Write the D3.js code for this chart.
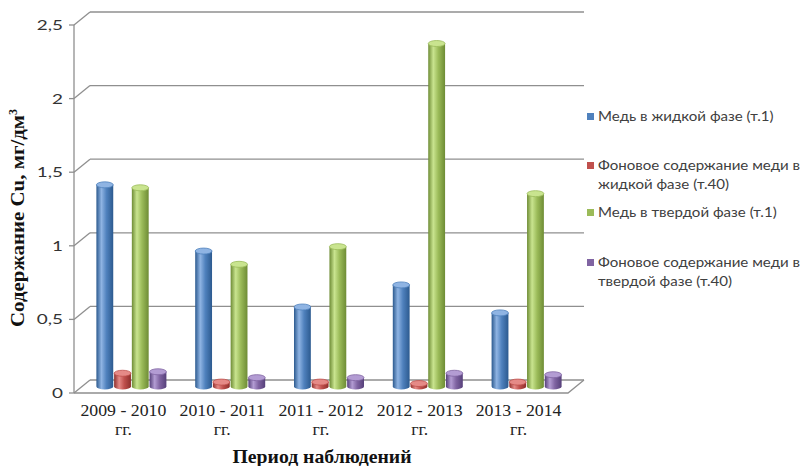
<!DOCTYPE html>
<html><head><meta charset="utf-8">
<script src="https://cdn.jsdelivr.net/npm/d3@7"></script>
<style>body{margin:0;background:#fff}svg{display:block}</style>
</head><body>
<svg id="c" width="803" height="466"></svg>
<script>
const categories = [["2009 - 2010","гг."],["2010 - 2011","гг."],["2011 - 2012","гг."],["2012 - 2013","гг."],["2013 - 2014","гг."]];
const seriesNames = ["Медь в жидкой фазе (т.1)","Фоновое содержание меди в жидкой фазе (т.40)","Медь в твердой фазе (т.1)","Фоновое содержание меди в твердой фазе (т.40)"];
const legendLines = [["Медь в жидкой фазе (т.1)"],["Фоновое содержание меди в","жидкой фазе (т.40)"],["Медь в твердой фазе (т.1)"],["Фоновое содержание меди в","твердой фазе (т.40)"]];
const cuLiquid = [1.37, 0.92, 0.54, 0.69, 0.50];
const bgLiquid = [0.09, 0.03, 0.03, 0.02, 0.03];
const cuSolid = [1.35, 0.83, 0.95, 2.33, 1.31];
const bgSolid = [0.10, 0.06, 0.06, 0.09, 0.08];
const yTicks = [0, 0.5, 1, 1.5, 2, 2.5];
const yTickLabels = ["0","0,5","1","1,5","2","2,5"];
const colors = ["#4F81BD","#C0504D","#9BBB59","#8064A2"];
const dark = ["#2c5a8f","#8e2f2c","#6e8c35","#56407a"];
const light = ["#8fb4e3","#e58a87","#c9e48f","#b39cd3"];

const series = [cuLiquid, bgLiquid, cuSolid, bgSolid];
const svg = d3.select("#c");
const L = 74, R = 568, B = 393, T = 25;
const DX = 16, DY = -13;
const x = d3.scaleBand().domain(d3.range(categories.length)).range([L, R]);
const x1 = d3.scaleBand().domain(d3.range(4)).range([14.4, 84.4]).paddingInner(0.05);
const y = d3.scaleLinear().domain([0, 2.5]).range([B, T]);

function stretch(sel, k) {
  sel.each(function () {
    const w = this.getComputedTextLength();
    d3.select(this).attr("textLength", w * k).attr("lengthAdjust", "spacingAndGlyphs");
  });
}

const defs = svg.append("defs");
colors.forEach((c, i) => {
  const g = defs.append("linearGradient").attr("id", "g" + i).attr("x1", "0").attr("x2", "1").attr("y1", "0").attr("y2", "0");
  g.append("stop").attr("offset", "0").attr("stop-color", dark[i]);
  g.append("stop").attr("offset", "0.3").attr("stop-color", light[i]);
  g.append("stop").attr("offset", "0.6").attr("stop-color", c);
  g.append("stop").attr("offset", "1").attr("stop-color", dark[i]);
});

// gridlines (back wall) + diagonals
const grid = svg.append("g").attr("stroke", "#8f8f8f").attr("stroke-width", 1.3).attr("fill", "none");
yTicks.forEach(t => {
  grid.append("line").attr("x1", L + DX).attr("x2", R + DX).attr("y1", y(t) + DY).attr("y2", y(t) + DY);
  grid.append("line").attr("x1", L).attr("x2", L + DX).attr("y1", y(t)).attr("y2", y(t) + DY);
  grid.append("line").attr("x1", L - 5).attr("x2", L).attr("y1", y(t)).attr("y2", y(t));
});
grid.append("line").attr("x1", L).attr("x2", L).attr("y1", y(2.5)).attr("y2", y(0));
grid.append("path").attr("d", `M${L},${y(0)}L${R},${y(0)}L${R + DX},${y(0) + DY}`);

// bars (cylinders at half depth)
const bw = x1.bandwidth(), ry = 3;
const bars = svg.append("g");
categories.forEach((c, ci) => {
  series.forEach((s, si) => {
    const v = s[ci];
    const x0 = x(ci) + x1(si) + DX / 2;
    const top = y(v) + DY / 2, bot = y(0) + DY / 2;
    const g = bars.append("g");
    g.append("path")
      .attr("d", `M${x0},${top}L${x0},${bot}A${bw/2},${ry} 0 0 0 ${x0+bw},${bot}L${x0+bw},${top}Z`)
      .attr("fill", `url(#g${si})`);
    g.append("ellipse").attr("cx", x0 + bw / 2).attr("cy", top).attr("rx", bw / 2).attr("ry", ry)
      .attr("fill", light[si]).attr("stroke", colors[si]).attr("stroke-width", 0.8);
  });
});

// y tick labels
svg.append("g").selectAll("text").data(yTicks).join("text")
  .attr("x", 63).attr("y", d => y(d) + 5).attr("text-anchor", "end")
  .attr("font-family", "Lato, 'Open Sans', sans-serif").attr("font-size", 14).attr("fill", "#333")
  .text((d, i) => yTickLabels[i]).call(stretch, 1.35);

// x labels
const xl = svg.append("g").attr("font-family", "'Liberation Serif', 'DejaVu Serif', serif").attr("font-size", 16).attr("fill", "#222").attr("text-anchor", "middle");
categories.forEach((c, ci) => {
  const cx = x(ci) + x.bandwidth() / 2;
  xl.append("text").attr("x", cx).attr("y", 416).text(c[0]);
  xl.append("text").attr("x", cx).attr("y", 435).text(c[1]);
});
stretch(xl.selectAll("text"), 1.11);

// axis titles
svg.append("text").attr("x", 322).attr("y", 463).attr("text-anchor", "middle")
  .attr("font-family", "'Liberation Serif', serif").attr("font-weight", "bold").attr("font-size", 18).attr("fill", "#111")
  .text("Период наблюдений").attr("textLength", 179).attr("lengthAdjust", "spacingAndGlyphs");
const yt = svg.append("text").attr("transform", "translate(24,327) rotate(-90)").attr("text-anchor", "start")
  .attr("font-family", "'Liberation Serif', serif").attr("font-weight", "bold").attr("font-size", 18).attr("fill", "#111");
yt.append("tspan").text("Содержание  Cu, мг/дм").attr("textLength", 212).attr("lengthAdjust", "spacingAndGlyphs");
yt.append("tspan").attr("dy", -7).attr("font-size", 12).text("3");

// legend
const lg = svg.append("g").attr("font-family", "Lato, 'Open Sans', sans-serif").attr("font-size", 13).attr("fill", "#404040");
const legY = [117, 166, 213, 263];
legendLines.forEach((lines, i) => {
  lg.append("rect").attr("x", 587).attr("y", legY[i] - 4).attr("width", 7).attr("height", 7).attr("fill", colors[i]);
  lines.forEach((ln, j) => {
    lg.append("text").attr("x", 598).attr("y", legY[i] + 4 + j * 19).text(ln);
  });
});
stretch(lg.selectAll("text"), 1.16);
</script>
</body></html>
